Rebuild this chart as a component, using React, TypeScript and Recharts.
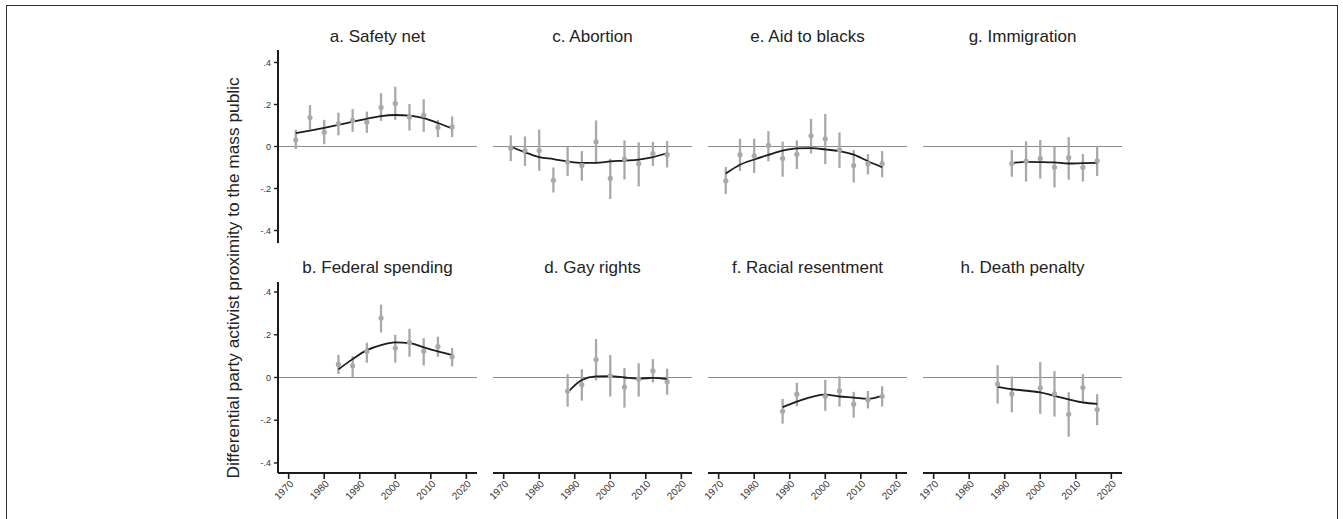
import React from "react";
import {
  ComposedChart,
  Line,
  Scatter,
  ErrorBar,
  XAxis,
  YAxis,
  ReferenceLine,
} from "recharts";

const FONT = '"Liberation Sans", Arial, Helvetica, sans-serif';
const GREY = "#a9a9a9";
const INK = "#1c1c1c";

const yearTicks = [1970, 1980, 1990, 2000, 2010, 2020];
const propTicks = [-0.4, -0.2, 0, 0.2, 0.4];

const everyFour = [1972, 1976, 1980, 1984, 1988, 1992, 1996, 2000, 2004, 2008, 2012, 2016];

// a. Safety net
const safetyYears = everyFour;
const safetyEst = [0.031, 0.138, 0.068, 0.109, 0.124, 0.116, 0.186, 0.205, 0.14, 0.149, 0.091, 0.093];
const safetyLo = [-0.012, 0.081, 0.011, 0.053, 0.07, 0.065, 0.122, 0.127, 0.076, 0.07, 0.045, 0.045];
const safetyHi = [0.08, 0.197, 0.127, 0.161, 0.178, 0.166, 0.254, 0.285, 0.202, 0.225, 0.127, 0.143];
const safetyFit = [0.064, 0.076, 0.089, 0.103, 0.118, 0.132, 0.145, 0.15, 0.147, 0.135, 0.112, 0.086];

// c. Abortion
const abortionYears = everyFour;
const abortionEst = [-0.008, -0.019, -0.019, -0.161, -0.074, -0.09, 0.022, -0.152, -0.06, -0.082, -0.034, -0.039];
const abortionLo = [-0.07, -0.093, -0.116, -0.219, -0.14, -0.163, -0.081, -0.25, -0.157, -0.19, -0.093, -0.1];
const abortionHi = [0.053, 0.048, 0.081, -0.1, 0, -0.022, 0.124, -0.059, 0.029, 0.02, 0.022, 0.026];
const abortionFit = [0, -0.028, -0.05, -0.06, -0.071, -0.078, -0.078, -0.071, -0.067, -0.062, -0.051, -0.031];

// e. Aid to blacks
const aidYears = everyFour;
const aidEst = [-0.164, -0.039, -0.045, 0.005, -0.057, -0.037, 0.051, 0.037, -0.016, -0.091, -0.082, -0.082];
const aidLo = [-0.226, -0.116, -0.126, -0.07, -0.144, -0.107, -0.033, -0.084, -0.102, -0.172, -0.133, -0.147];
const aidHi = [-0.098, 0.037, 0.037, 0.073, 0.023, 0.029, 0.132, 0.155, 0.067, -0.017, -0.036, -0.022];
const aidFit = [-0.129, -0.087, -0.062, -0.04, -0.02, -0.009, -0.008, -0.014, -0.022, -0.039, -0.07, -0.098];

// g. Immigration
const immigYears = [1992, 1996, 2000, 2004, 2008, 2012, 2016];
const immigEst = [-0.081, -0.07, -0.057, -0.099, -0.053, -0.099, -0.068];
const immigLo = [-0.144, -0.167, -0.153, -0.195, -0.158, -0.167, -0.14];
const immigHi = [-0.017, 0.025, 0.031, 0, 0.045, -0.036, 0];
const immigFit = [-0.079, -0.073, -0.074, -0.076, -0.081, -0.079, -0.078];

// b. Federal spending
const spendYears = [1984, 1988, 1992, 1996, 2000, 2004, 2008, 2012, 2016];
const spendEst = [0.061, 0.055, 0.122, 0.278, 0.138, 0.164, 0.123, 0.145, 0.097];
const spendLo = [0.016, 0, 0.069, 0.211, 0.07, 0.097, 0.056, 0.097, 0.052];
const spendHi = [0.106, 0.1, 0.163, 0.341, 0.2, 0.228, 0.184, 0.191, 0.138];
const spendFit = [0.038, 0.086, 0.128, 0.152, 0.164, 0.161, 0.141, 0.122, 0.105];

// d. Gay rights
const gayYears = [1988, 1992, 1996, 2000, 2004, 2008, 2012, 2016];
const gayEst = [-0.063, -0.034, 0.084, 0.008, -0.045, -0.008, 0.031, -0.02];
const gayLo = [-0.136, -0.108, -0.014, -0.089, -0.141, -0.089, -0.023, -0.081];
const gayHi = [0.016, 0.039, 0.18, 0.105, 0.044, 0.067, 0.086, 0.041];
const gayFit = [-0.07, -0.012, 0.005, 0.006, 0, -0.005, -0.002, -0.008];

// f. Racial resentment
const racialYears = [1988, 1992, 2000, 2004, 2008, 2012, 2016];
const racialEst = [-0.158, -0.078, -0.088, -0.063, -0.125, -0.105, -0.088];
const racialLo = [-0.216, -0.134, -0.156, -0.136, -0.188, -0.145, -0.136];
const racialHi = [-0.1, -0.025, -0.011, 0.006, -0.067, -0.063, -0.041];
const racialFit = [-0.139, -0.113, -0.08, -0.089, -0.094, -0.1, -0.086];

// h. Death penalty
const deathYears = [1988, 1992, 2000, 2004, 2008, 2012, 2016];
const deathEst = [-0.031, -0.077, -0.048, -0.077, -0.172, -0.047, -0.15];
const deathLo = [-0.122, -0.163, -0.17, -0.183, -0.277, -0.113, -0.223];
const deathHi = [0.058, 0.005, 0.072, 0.03, -0.069, 0.016, -0.078];
const deathFit = [-0.044, -0.055, -0.07, -0.086, -0.102, -0.117, -0.123];

const fmtProp = (v: number) =>
  v === 0 ? "0" : (v < 0 ? "-" : "") + String(Math.abs(v)).replace(/^0/, "");

function YearTick({ x, y, payload }: any) {
  return (
    <text
      x={x + 3}
      y={y + 1}
      dy="0.35em"
      transform={`rotate(-45 ${x + 3} ${y + 1})`}
      textAnchor="end"
      fontSize={10}
      fontFamily={FONT}
      fill="#333"
    >
      {payload.value}
    </text>
  );
}

const Dot = (p: any) => <circle cx={p.cx} cy={p.cy} r={2.6} fill={GREY} />;

interface PanelProps {
  title: string;
  years: number[];
  est: number[];
  lo: number[];
  hi: number[];
  fit: number[];
  col: number;
  row: number;
}

function Panel({ title, years, est, lo, hi, fit, col, row }: PanelProps) {
  const rows = years.map((year, i) => ({
    year,
    est: est[i],
    err: [est[i] - lo[i], hi[i] - est[i]],
    fit: fit[i],
  }));
  const plotLeft = 278 + 215 * col;
  const plotTop = row === 0 ? 50 : 282;
  const plotH = row === 0 ? 193 : 191;
  const lim = row === 0 ? 0.4595 : 0.447;
  const showY = col === 0;
  const showX = row === 1;
  const pad = 6;
  const W = 40 + 199 + pad;
  const H = pad + plotH + (showX ? 34 : 0) + pad;

  return (
    <>
      <div
        style={{
          position: "absolute",
          left: plotLeft,
          width: 199,
          top: row === 0 ? 27 : 258,
          textAlign: "center",
          fontFamily: FONT,
          fontSize: 17,
          lineHeight: "20px",
          color: "#222",
          whiteSpace: "nowrap",
        }}
      >
        {title}
      </div>
      <div style={{ position: "absolute", left: plotLeft - 40, top: plotTop - pad }}>
        <ComposedChart
          width={W}
          height={H}
          data={rows}
          margin={{ top: pad, right: pad, bottom: pad, left: showY ? 0 : 40 }}
        >
          <XAxis
            dataKey="year"
            type="number"
            domain={[1967, 2023]}
            allowDataOverflow
            ticks={yearTicks}
            interval={0}
            hide={!showX}
            height={34}
            tick={<YearTick />}
            tickSize={6}
            axisLine={{ stroke: INK, strokeWidth: 2 }}
            tickLine={{ stroke: INK, strokeWidth: 1.6 }}
          />
          <YAxis
            type="number"
            domain={[-lim, lim]}
            allowDataOverflow
            ticks={propTicks}
            interval={0}
            tickFormatter={fmtProp}
            hide={!showY}
            width={40}
            tickSize={4}
            tickMargin={3}
            tick={{ fontSize: 9, fill: "#333", fontFamily: FONT }}
            axisLine={{ stroke: INK, strokeWidth: 2 }}
            tickLine={{ stroke: INK, strokeWidth: 1.4 }}
          />
          <ReferenceLine y={0} stroke="#8a8a8a" strokeWidth={1} />
          <Scatter dataKey="est" shape={Dot} isAnimationActive={false}>
            <ErrorBar
              dataKey="err"
              direction="y"
              width={0}
              stroke={GREY}
              strokeWidth={2.3}
              isAnimationActive={false}
            />
          </Scatter>
          <Line
            dataKey="fit"
            type="monotone"
            stroke={INK}
            strokeWidth={1.8}
            dot={false}
            activeDot={false}
            isAnimationActive={false}
          />
        </ComposedChart>
      </div>
    </>
  );
}

export default function App() {
  return (
    <div
      style={{
        position: "fixed",
        left: 0,
        top: 0,
        width: 1343,
        height: 519,
        overflow: "hidden",
        background: "#fff",
      }}
    >
      <div
        style={{
          position: "absolute",
          left: 6,
          top: 5,
          width: 1332,
          height: 600,
          border: "1.5px solid #333",
          boxSizing: "border-box",
        }}
      />
      <svg
        width={40}
        height={519}
        style={{ position: "absolute", left: 213, top: 0 }}
      >
        <text
          x={20}
          y={278}
          transform="rotate(-90 20 278)"
          textAnchor="middle"
          dominantBaseline="central"
          fontSize={17.3}
          fontFamily={FONT}
          fill="#222"
        >
          Differential party activist proximity to the mass public
        </text>
      </svg>
      <Panel title="a. Safety net" years={safetyYears} est={safetyEst} lo={safetyLo} hi={safetyHi} fit={safetyFit} col={0} row={0} />
      <Panel title="c. Abortion" years={abortionYears} est={abortionEst} lo={abortionLo} hi={abortionHi} fit={abortionFit} col={1} row={0} />
      <Panel title="e. Aid to blacks" years={aidYears} est={aidEst} lo={aidLo} hi={aidHi} fit={aidFit} col={2} row={0} />
      <Panel title="g. Immigration" years={immigYears} est={immigEst} lo={immigLo} hi={immigHi} fit={immigFit} col={3} row={0} />
      <Panel title="b. Federal spending" years={spendYears} est={spendEst} lo={spendLo} hi={spendHi} fit={spendFit} col={0} row={1} />
      <Panel title="d. Gay rights" years={gayYears} est={gayEst} lo={gayLo} hi={gayHi} fit={gayFit} col={1} row={1} />
      <Panel title="f. Racial resentment" years={racialYears} est={racialEst} lo={racialLo} hi={racialHi} fit={racialFit} col={2} row={1} />
      <Panel title="h. Death penalty" years={deathYears} est={deathEst} lo={deathLo} hi={deathHi} fit={deathFit} col={3} row={1} />
    </div>
  );
}
